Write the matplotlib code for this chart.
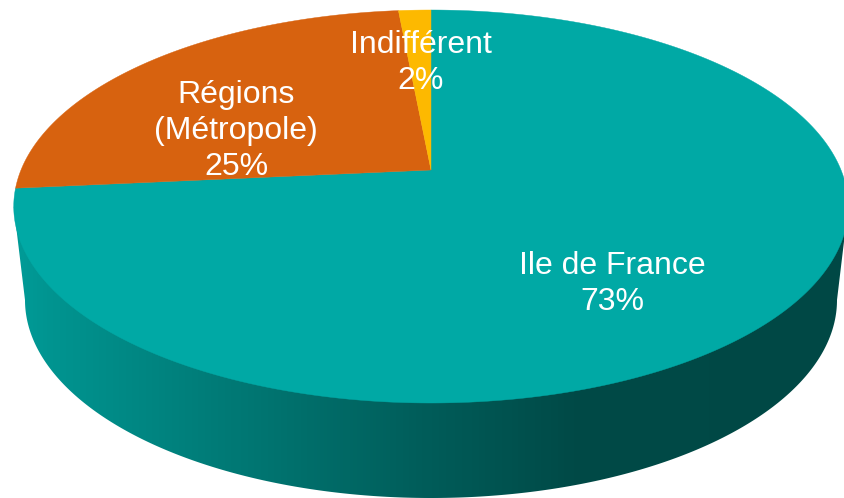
import numpy as np
import matplotlib
matplotlib.use("Agg")
import matplotlib.pyplot as plt
from matplotlib.colors import LinearSegmentedColormap
from matplotlib.patches import Polygon

categories = ["Ile de France", "Régions\n(Métropole)", "Indifférent"]
shares = [73.5, 25.0, 1.5]
labels = ["73%", "25%", "2%"]
colors = ["#00A9A5", "#D7620F", "#FDB900"]

plt.rcParams["font.family"] = ["Liberation Sans", "DejaVu Sans"]

# perspective of the pie disc, in pixels of the picture
CX, CY = 431, 170
TILT = 73 / 393
H = 160 * (1 + TILT)
W = 410


def project(theta):
    # disc angle -> picture position
    u, v = np.cos(theta), np.sin(theta)
    d = 1 + TILT * v
    return CX + W * u / d, CY - H * v / d


fig = plt.figure(figsize=(8.45, 4.98), dpi=100)
ax = fig.add_axes([0, 0, 1, 1])
ax.set_xlim(0, 845)
ax.set_ylim(498, 0)
ax.axis("off")

# side of the pie: lower half of a second ellipse joined to the top disc
t = np.linspace(0, np.pi, 300)
low_x = 431 + 406 * np.cos(t)
low_y = 300 + 198 * np.sin(t)
top_x, top_y = project(np.linspace(0, 2 * np.pi, 720))
left = np.argmin(top_x)
right = np.argmax(top_x)
side_pts = np.vstack([
    [top_x[right], top_y[right]],
    np.column_stack([low_x, low_y]),
    [top_x[left], top_y[left]],
])
side = Polygon(side_pts, closed=True, facecolor="none", edgecolor="none")
ax.add_patch(side)

stops = [(0.0, "#009E9A"), (0.06, "#009490"), (0.33, "#00726E"),
         (0.51, "#005C59"), (0.68, "#004A47"), (1.0, "#004845")]
cmap = LinearSegmentedColormap.from_list("side", stops)
img = ax.imshow(np.linspace(0, 1, 845).reshape(1, -1), cmap=cmap, aspect="auto",
                extent=(0, 845, 498, 0), zorder=1)
img.set_clip_path(side)
ax.set_xlim(0, 845)
ax.set_ylim(498, 0)

# slices clockwise from 12 o'clock
start = np.pi / 2
for share, color in zip(shares, colors):
    end = start - 2 * np.pi * share / sum(shares)
    n = max(int(share * 8), 12)
    x, y = project(np.linspace(start, end, n))
    ax.fill(np.r_[CX, x], np.r_[CY, y], facecolor=color, edgecolor=color,
            linewidth=0.3, zorder=2)
    start = end

label_pos = [(612, 284), (236, 131), (421, 63)]
for cat, lab, (lx, ly) in zip(categories, labels, label_pos):
    ax.text(lx, ly, f"{cat}\n{lab}", color="white", fontsize=23, ha="center",
            va="center", linespacing=1.28, zorder=3)

fig.savefig("out.png", dpi=100, facecolor="white")
